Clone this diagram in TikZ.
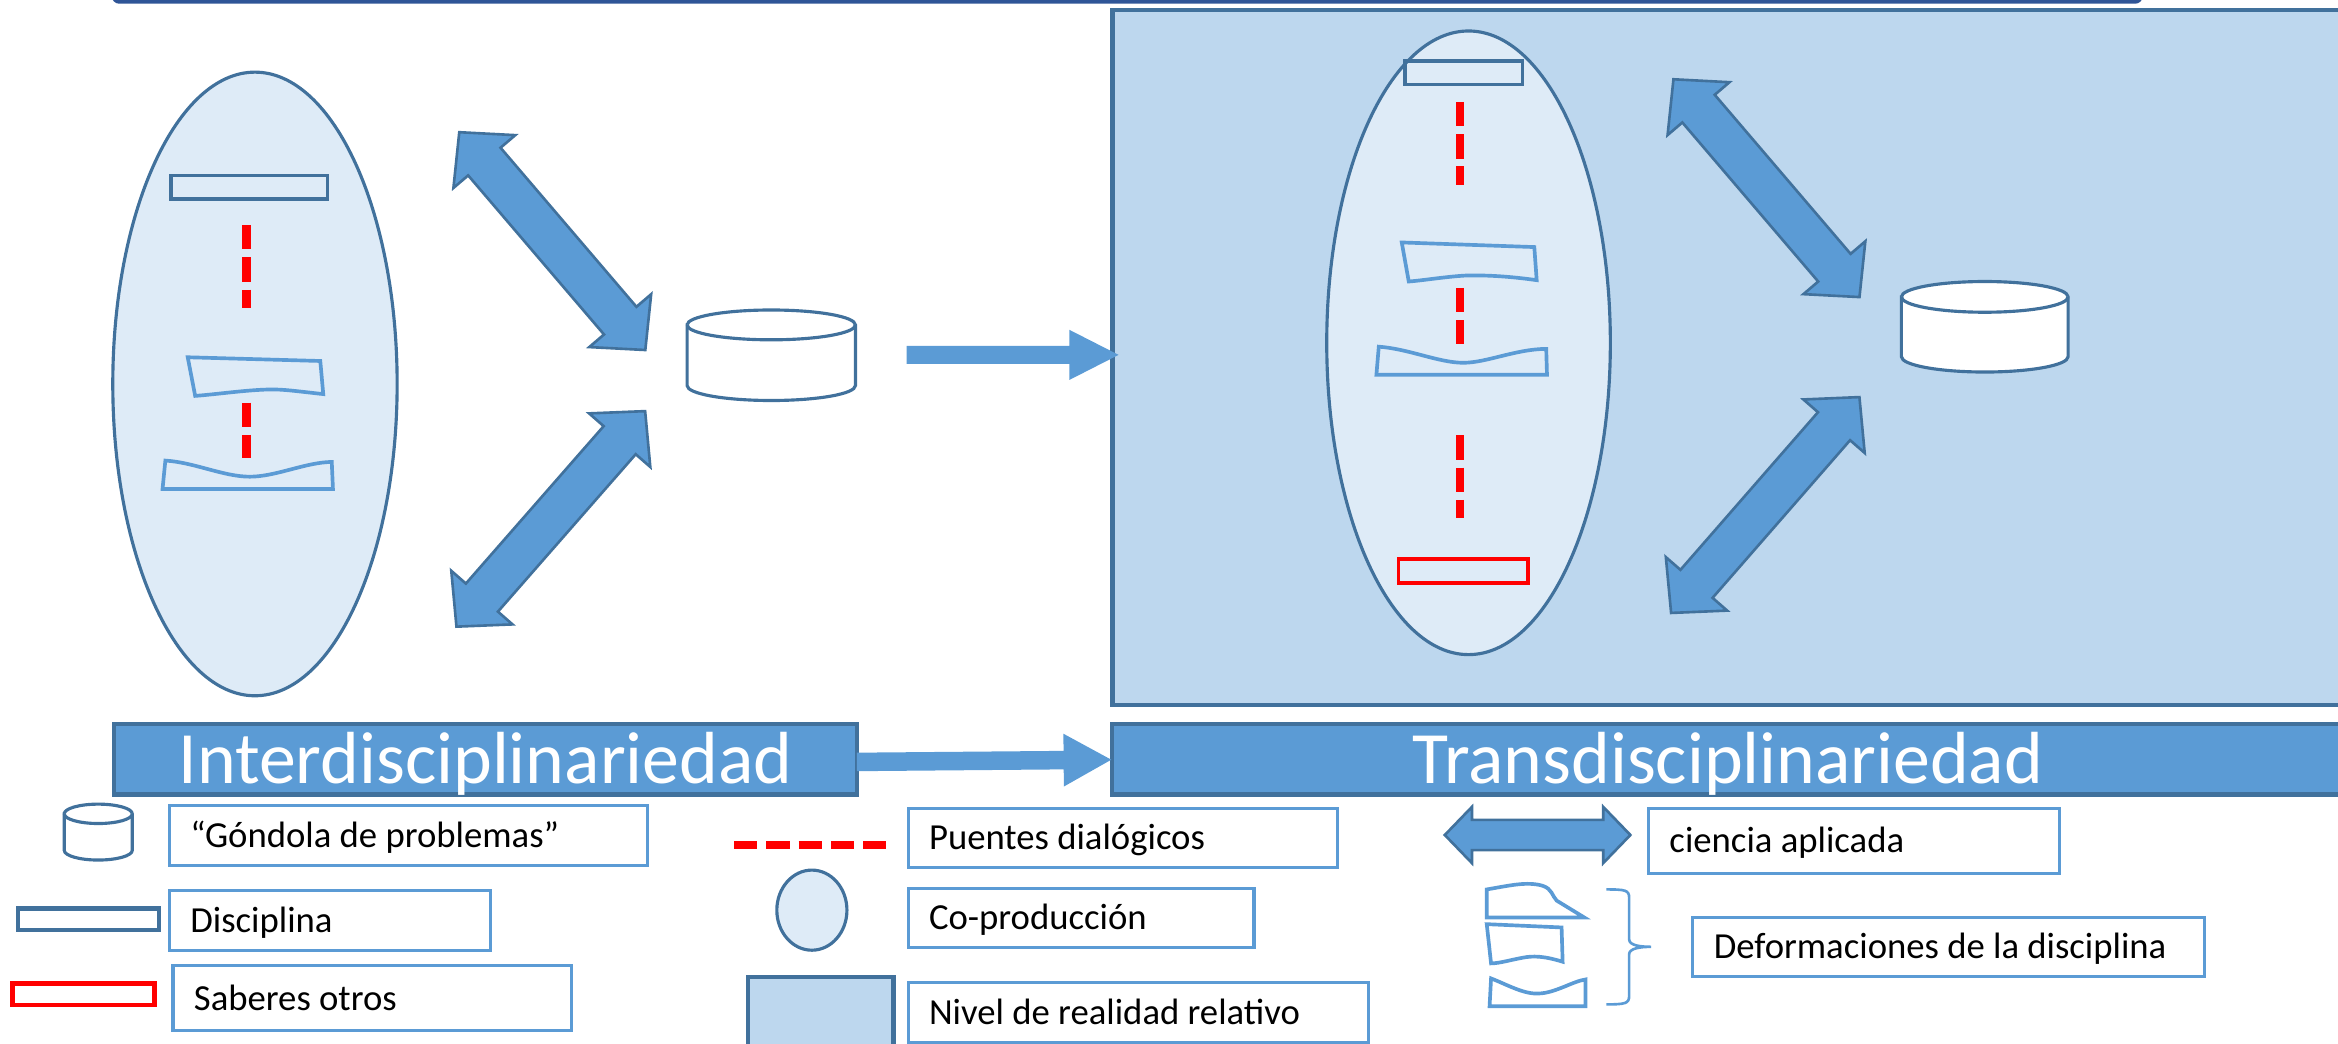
\documentclass[tikz,border=0pt]{standalone}
\usepackage{fontspec}
\setmainfont{Carlito}
\usetikzlibrary{arrows,positioning,shapes.geometric,shapes.arrows}

\definecolor{dblue}{HTML}{41719C}
\definecolor{mblue}{HTML}{5B9BD5}
\definecolor{lblue}{HTML}{5B9BD5}
\definecolor{pale}{HTML}{DEEBF7}
\definecolor{level}{HTML}{BDD7EE}
\definecolor{topbar}{HTML}{2F5597}
\newcommand\titlefont{\fontsize{14.08pt}{17pt}\selectfont}
\newcommand\legfont{\fontsize{7pt}{8.4pt}\selectfont}

\begin{document}
\begin{tikzpicture}[x=0.01cm,y=-0.01cm,
  coprod/.style={ellipse,draw=dblue,fill=pale,line width=0.6pt,inner sep=0pt},
  level/.style={draw=dblue,fill=level,line width=0.8pt,inner sep=0pt,anchor=north west},
  disc/.style={draw=dblue,line width=0.7pt,inner sep=0pt},
  otros/.style={draw=red,line width=0.7pt,inner sep=0pt},
  deform/.style={draw=lblue,line width=0.7pt},
  puente/.style={draw=red,line width=1.65pt,dash pattern=on 0.163cm off 0.053cm},
  gondola/.style={draw=dblue,fill=white,line width=0.6pt},
  dblarrow/.style={double arrow,draw=dblue,fill=mblue,line width=0.5pt,inner xsep=0pt,inner ysep=0.134cm,
    double arrow head extend=0.13cm,double arrow tip angle=93,minimum height=1.92cm},
  blockarrow/.style={single arrow,fill=mblue,inner xsep=0pt,anchor=tail},
  bar/.style={draw=dblue,fill=mblue,line width=0.8pt,inner sep=0pt,anchor=north west},
  bartext/.style={text=white,font=\titlefont,inner sep=0pt,text height=0.431cm,text depth=0.099cm},
  legbox/.style={draw=lblue,line width=0.6pt,anchor=north west,inner xsep=0.14cm,inner ysep=0pt,
    align=flush left,font=\legfont,text height=0.207cm,text depth=0.049cm}]

  \useasboundingbox (0,0) rectangle (1568,700);
  \clip (0,0) rectangle (1568,700);

  % top frame
  \fill[topbar,rounded corners=0.05cm] (75,-30) rectangle (1437,2.5);

  % nivel de realidad
  \node[level,minimum width=8.4cm,minimum height=4.658cm] (R) at (744.7,5.2) {};

  % interdisciplinariedad
  \node[coprod,minimum width=1.906cm,minimum height=4.18cm] (I) at (171,257.5) {};
  \node[disc,minimum width=1.048cm,minimum height=0.157cm] (ID) at (167.1,125.55) {};
  \draw[puente] (165.5,151) -- (165.5,206.4);
  \draw[deform] (125.9,239.6) -- (214.8,242.1) -- (216.8,264.3)
    .. controls (200,262.5) and (190,261) .. (181,261.2)
    .. controls (165,261.5) and (145,264.5) .. (130.9,265.5) -- cycle;
  \draw[puente] (165.5,270) -- (165.5,307.4);
  \draw[deform] (110.9,308.9) .. controls (130,310) and (150,319.7) .. (167.5,319.7)
    .. controls (185,319.7) and (205,310) .. (222.5,309.8) -- (223.3,328) -- (109,328) -- cycle;

  \draw[gondola] (460.8,217.9) -- (460.8,258.6) arc[start angle=180,end angle=0,x radius=56.45,y radius=10]
    -- (573.7,217.9) arc[start angle=0,end angle=-180,x radius=56.45,y radius=10] -- cycle;
  \draw[gondola] (460.8,217.9) arc[start angle=180,end angle=0,x radius=56.45,y radius=10];

  \node[dblarrow,rotate=-49.5] (IA) at (370.4,161.7) {};
  \node[dblarrow,rotate=48.8] (IB) at (369.4,348) {};

  \node[blockarrow,minimum height=1.42cm,inner ysep=0.0535cm,single arrow head extend=0.1075cm,
    single arrow tip angle=54] (A1) at (607.4,238) {};

  % transdisciplinariedad
  \node[coprod,minimum width=1.901cm,minimum height=4.18cm] (T) at (984.9,229.9) {};
  \node[disc,minimum width=0.789cm,minimum height=0.157cm] (TD) at (981.65,48.85) {};
  \draw[puente] (979.2,68.4) -- (979.2,123.8);
  \draw[deform] (940.1,162.6) -- (1029,165.7) -- (1030.6,187.9)
    .. controls (1010,185) and (995,184.5) .. (983,184.8)
    .. controls (970,185.5) and (955,188) .. (944.8,188.8) -- cycle;
  \draw[puente] (979.2,193) -- (979.2,230.4);
  \draw[deform] (924.7,232.5) .. controls (945,234) and (965,243.3) .. (981.4,243.3)
    .. controls (997,243.3) and (1017,234) .. (1037,234) -- (1037.5,251.3) -- (923.1,251.3) -- cycle;
  \draw[puente] (979.2,292) -- (979.2,347.4);
  \node[otros,minimum width=0.868cm,minimum height=0.164cm] (TO) at (981.4,383) {};

  \draw[gondola] (1275.2,199.1) -- (1275.2,239.2) arc[start angle=180,end angle=0,x radius=55.9,y radius=10.3]
    -- (1387,199.1) arc[start angle=0,end angle=-180,x radius=55.9,y radius=10.3] -- cycle;
  \draw[gondola] (1275.2,199.1) arc[start angle=180,end angle=0,x radius=55.9,y radius=10.3];

  \node[dblarrow,rotate=-49.5] (TA) at (1184.7,126.2) {};
  \node[dblarrow,rotate=48.9] (TB) at (1183.9,338.7) {};

  % titulos
  \node[bar,minimum width=4.983cm,minimum height=0.474cm] (IT) at (74.9,484) {};
  \node[bartext] at (IT.center) {Interdisciplinariedad};
  \node[bar,minimum width=8.255cm,minimum height=0.474cm] (TT) at (744.5,484) {};
  \node[bartext] at (TT.center) {Transdisciplinariedad};
  \node[blockarrow,minimum height=1.705cm,inner ysep=0.055cm,single arrow head extend=0.115cm,
    single arrow tip angle=58,rotate=0.5] (A2) at (574,511) {};

  % leyenda
  \draw[gondola] (43.1,545.8) -- (43.1,570.3) arc[start angle=180,end angle=0,x radius=22.8,y radius=6.5]
    -- (88.7,545.8) arc[start angle=0,end angle=-180,x radius=22.8,y radius=6.5] -- cycle;
  \draw[gondola] (43.1,545.8) arc[start angle=180,end angle=0,x radius=22.8,y radius=6.5];
  \node[legbox,text width=2.924cm,minimum height=0.398cm] (L1) at (112.6,539.3) {“Góndola de problemas”};

  \node[disc,line width=0.8pt,minimum width=0.946cm,minimum height=0.145cm] (LD) at (59.3,616.55) {};
  \node[legbox,text width=1.871cm,minimum height=0.398cm] (L2) at (112.6,596.3) {Disciplina};

  \node[otros,line width=0.8pt,minimum width=0.952cm,minimum height=0.145cm] (LO) at (56,666.85) {};
  \node[legbox,text width=2.392cm,minimum height=0.436cm] (L3) at (115,646.6) {Saberes otros};

  \draw[puente,line width=1.54pt,dash pattern=on 0.156cm off 0.06cm] (492.4,566.8) -- (594.8,566.8);
  \node[legbox,text width=2.595cm,minimum height=0.396cm] (L4) at (608,541) {Puentes dialógicos};

  \node[coprod,minimum width=0.47cm,minimum height=0.537cm] (LC) at (544.5,610.4) {};
  \node[legbox,text width=2.038cm,minimum height=0.396cm] (L5) at (608,594.7) {Co-producción};

  \node[level,minimum width=0.976cm,minimum height=0.6cm] (LN) at (500.2,654) {};
  \node[legbox,text width=2.805cm,minimum height=0.402cm] (L6) at (608,657.8) {Nivel de realidad relativo};

  \node[dblarrow,minimum height=1.244cm,inner ysep=0.093cm,double arrow head extend=0.087cm,
    double arrow tip angle=92] (LA) at (1031.2,560) {};
  \node[legbox,text width=2.474cm,minimum height=0.437cm] (L7) at (1104.6,541) {ciencia aplicada};

  \draw[deform] (997.1,615.3) -- (997.1,596.5) .. controls (1012,594) and (1024,591) .. (1034.4,594)
    .. controls (1041,596) and (1041,601) .. (1044,604) -- (1062.5,615.3) -- cycle;
  \draw[deform] (997.1,619.8) -- (1047.3,622) -- (1048,645) .. controls (1035,641) and (1028,641) .. (1021.2,642.3)
    .. controls (1012,644) and (1006,646) .. (1000,646.1) -- cycle;
  \draw[deform] (1000,656.2) .. controls (1010,660) and (1022,667) .. (1032,666.3)
    .. controls (1043,666) and (1055,658) .. (1063.3,656.9) -- (1063.3,674.8) -- (999,674.8) -- cycle;
  \draw[deform,line width=0.5pt] (1077.3,596.5) .. controls (1090,596.5) and (1092.6,597) .. (1092.6,602)
    -- (1092.6,630) .. controls (1092.6,634) and (1100,635) .. (1107.4,635)
    .. controls (1100,635) and (1092.6,636) .. (1092.6,640)
    -- (1092.6,668) .. controls (1092.6,673) and (1090,673.6) .. (1077.3,673.6);
  \node[legbox,text width=3.147cm,minimum height=0.398cm] (L8) at (1134.3,614.2) {Deformaciones de la disciplina};
\end{tikzpicture}
\end{document}
